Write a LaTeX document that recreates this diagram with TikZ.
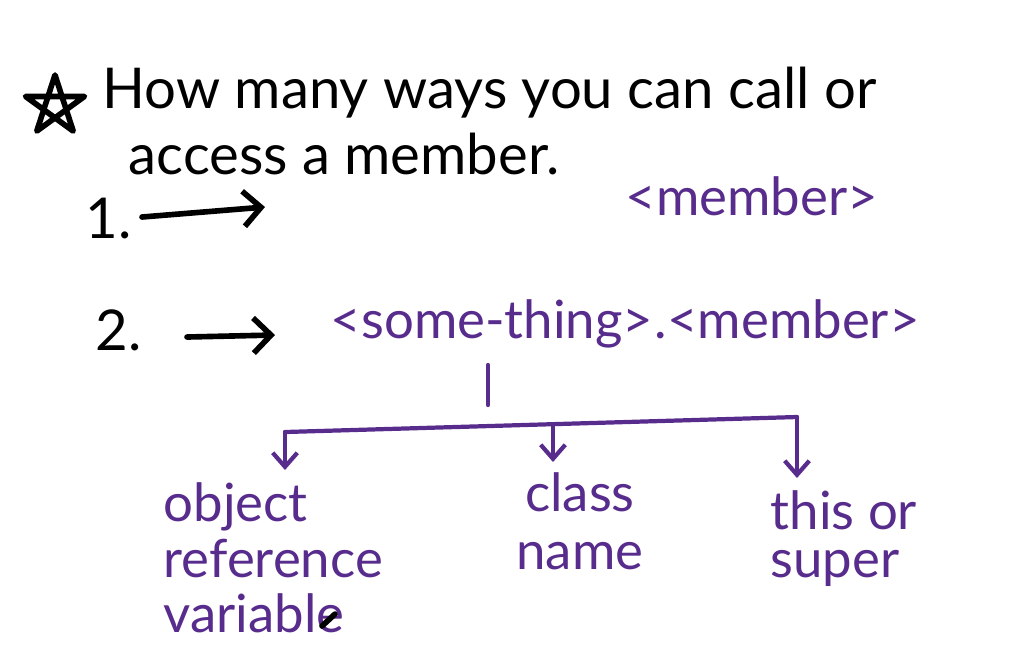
\documentclass[tikz,border=0pt]{standalone}
\usepackage{fontspec}
\setmainfont{Lato}
\usetikzlibrary{arrows.meta}
\definecolor{penpurple}{RGB}{88,44,140}

\begin{document}
\begin{tikzpicture}[x=0.01cm, y=-0.01cm,
        ink/.style={line width=1.6pt, line cap=round, line join=round},
        violet ink/.style={ink, color=penpurple, line width=1.2pt},
        note/.style={font=\fontsize{16}{19}\selectfont, inner sep=0pt},
        answer/.style={font=\fontsize{15}{15}\selectfont, text=penpurple, inner sep=0pt},
        pen arrow/.style={-{Straight Barb[length=5pt, width=10pt]}},
        small arrow/.style={-{Straight Barb[length=4pt, width=7pt]}}]
            \useasboundingbox (0,0) rectangle (1012,647);
            % star in front of the question
            \draw[ink] (55,106) +(-90:31) -- +(54:31) -- +(198:31) -- +(342:31) -- +(126:31) -- cycle;
            \node [note, anchor=base west] (line1) at (102,108) {How many ways you can call or};
            \node [note, anchor=base west] (line2) at (128,174) {access a member.};
            % way 1
            \node [note, anchor=base west] (one) at (85,238) {1.};
            \coordinate (tail1) at (142,217);
            \coordinate (tip1) at (265,207);
            \draw[ink, pen arrow] (tail1) -- (tip1);
            \node [answer, anchor=base west] (member1) at (625,215) {<member>};
            % way 2
            \node [note, anchor=base west] (two) at (95,350) {2.};
            \coordinate (tail2) at (187,337);
            \coordinate (tip2) at (275,335);
            \draw[ink, pen arrow] (tail2) -- (tip2);
            \node [answer, anchor=base west] (thing) at (330,338) {<some-thing>};
            \node [answer, anchor=base west] (member2) at (thing.base east) {.<member>};
            % the three kinds of <some-thing>
            \coordinate (stem top) at (488,365);
            \coordinate (stem) at (488,405);
            \coordinate (left end) at (285,432);
            \coordinate (mid) at (553,425);
            \coordinate (right end) at (797,417);
            \draw[violet ink] (stem top) -- (stem);
            \draw[violet ink] (left end) -- (right end);
            \node [answer, font=\fontsize{15}{15.8}\selectfont, align=left, anchor=north west] (object) at (163,482) {object\\reference\\variable};
            \node [answer, font=\fontsize{15}{16.5}\selectfont, align=center, anchor=north] (class) at (580,472) {class\\name};
            \node [answer, font=\fontsize{15}{13.5}\selectfont, align=left, anchor=north west] (this) at (770,490) {this or\\super};
            \coordinate (object tip) at (285,470);
            \coordinate (class tip) at (553,462);
            \coordinate (this tip) at (797,478);
            \foreach \From/\To in {left end/object tip, mid/class tip, right end/this tip}{
                \draw[violet ink, small arrow] (\From) -- (\To);
            }
            \draw[ink] (322,626) -- (335,614);
        \end{tikzpicture}
\end{document}
